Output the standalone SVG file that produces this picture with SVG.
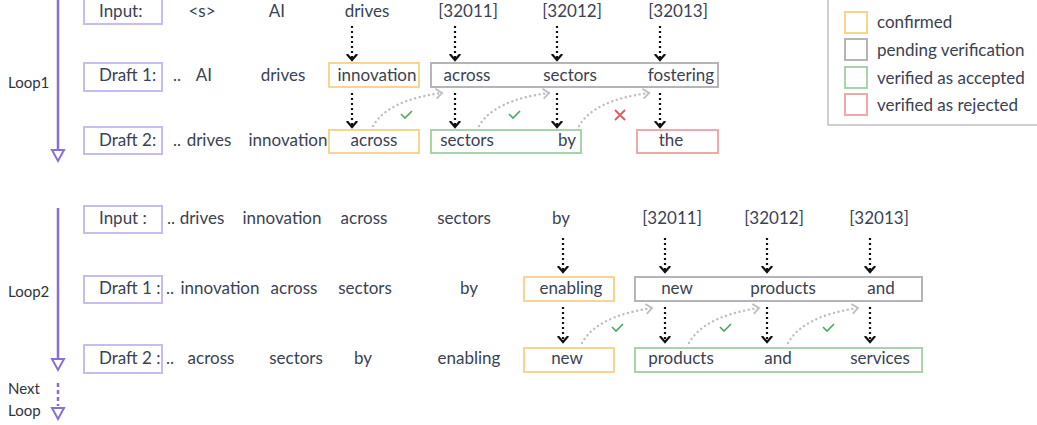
<svg xmlns="http://www.w3.org/2000/svg" width="1037" height="425" viewBox="0 0 1037 425">
  <defs>
    <style>
      .t { font-family: Lato, "Liberation Sans", sans-serif; font-size: 17px; fill: #3b4251; }
      .m { text-anchor: middle; }
      .loop { font-family: Lato, "Liberation Sans", sans-serif; font-size: 15px; fill: #2f3440; }
      .lbl { fill: none; stroke: #c8bcef; stroke-width: 2; }
      .yel { fill: none; stroke: #f8d58f; stroke-width: 2; }
      .gry { fill: none; stroke: #b3b5ba; stroke-width: 2; }
      .grn { fill: none; stroke: #a9d4ab; stroke-width: 2; }
      .red { fill: none; stroke: #f0a9a9; stroke-width: 2; }
      .vline { stroke: #8a6ed6; stroke-width: 2.5; fill: none; }
      .tri { fill: #ffffff; stroke: #8a6ed6; stroke-width: 2; }
      .dot { stroke: #111111; stroke-width: 2.2; stroke-dasharray: 2 3; fill: none; marker-end: url(#chev); }
      .ver { stroke: #bdbec2; stroke-width: 2.4; stroke-linecap: round; stroke-dasharray: 0.1 4.6; fill: none; marker-end: url(#corner); }
      .ok { stroke: #4ea665; stroke-width: 1.6; fill: none; }
      .no { stroke: #e05c5c; stroke-width: 1.8; fill: none; }
    </style>
    <marker id="chev" markerUnits="userSpaceOnUse" viewBox="0 0 8 12" refX="6.5" refY="6" markerWidth="8" markerHeight="12" orient="auto">
      <path d="M0.5,0.8 L6.5,6 L0.5,11.2" fill="none" stroke="#111111" stroke-width="2.2"/>
    </marker>
    <marker id="corner" markerUnits="userSpaceOnUse" viewBox="0 0 10 12" refX="7.5" refY="6" markerWidth="10" markerHeight="12" orient="auto">
      <path d="M1.5,1 L7.5,6 L1.5,11" fill="none" stroke="#bdbec2" stroke-width="1.8"/>
    </marker>
  </defs>

  <rect width="1037" height="425" fill="#ffffff"/>

  <!-- legend -->
  <g id="legend">
    <rect x="828" y="-1" width="215" height="126" fill="#ffffff" stroke="#a0a0a0" stroke-width="1"/>
    <rect class="yel" x="845" y="12" width="22" height="21"/>
    <rect class="gry" x="845" y="39" width="22" height="21"/>
    <rect class="grn" x="845" y="67" width="22" height="21"/>
    <rect class="red" x="845" y="94" width="22" height="21"/>
    <text class="t" x="877" y="28">confirmed</text>
    <text class="t" x="877" y="56">pending verification</text>
    <text class="t" x="877" y="84">verified as accepted</text>
    <text class="t" x="877" y="111">verified as rejected</text>
  </g>

  <!-- loop timelines -->
  <g id="loop1">
    <line class="vline" x1="58" y1="-5" x2="58" y2="150"/>
    <polygon class="tri" points="52,150 64,150 58,161"/>
    <text class="loop" x="8" y="88">Loop1</text>
  </g>
  <g id="loop2">
    <line class="vline" x1="58" y1="208" x2="58" y2="359"/>
    <polygon class="tri" points="52,359 64,359 58,370"/>
    <text class="loop" x="8" y="297">Loop2</text>
  </g>
  <g id="next-loop">
    <line class="vline" x1="58" y1="383" x2="58" y2="406" stroke-dasharray="4 3" stroke-width="2"/>
    <polygon class="tri" points="52,408 64,408 58,419"/>
    <text class="loop" x="8" y="394">Next</text>
    <text class="loop" x="8" y="416">Loop</text>
  </g>

  <!-- loop 1 rows -->
  <g id="l1-input">
    <rect class="lbl" x="84" y="-2" width="78" height="26"/>
    <text class="t" x="99" y="17">Input:</text>
    <text class="t m" x="202" y="17">&lt;s&gt;</text>
    <text class="t m" x="277" y="17">AI</text>
    <text class="t m" x="367" y="17">drives</text>
    <text class="t m" x="468" y="17">[32011]</text>
    <text class="t m" x="572" y="17">[32012]</text>
    <text class="t m" x="678" y="17">[32013]</text>
  </g>
  <g id="l1-draft1">
    <rect class="lbl" x="84" y="63" width="78" height="28"/>
    <text class="t" x="99" y="81">Draft 1:</text>
    <text class="t" x="173" y="81">..</text>
    <text class="t m" x="204" y="81">AI</text>
    <text class="t m" x="283" y="81">drives</text>
    <rect class="yel" x="329" y="63" width="90" height="24"/>
    <text class="t m" x="377" y="81">innovation</text>
    <rect class="gry" x="431" y="63" width="287" height="24"/>
    <text class="t m" x="467" y="81">across</text>
    <text class="t m" x="570" y="81">sectors</text>
    <text class="t m" x="681" y="81">fostering</text>
  </g>
  <g id="l1-draft2">
    <rect class="lbl" x="84" y="127" width="78" height="27"/>
    <text class="t" x="99" y="146">Draft 2:</text>
    <text class="t" x="173" y="146">..</text>
    <text class="t m" x="209" y="146">drives</text>
    <text class="t m" x="288" y="146">innovation</text>
    <rect class="yel" x="329" y="130" width="90" height="23"/>
    <text class="t m" x="374" y="146">across</text>
    <rect class="grn" x="431" y="130" width="150" height="23"/>
    <text class="t m" x="467" y="146">sectors</text>
    <text class="t m" x="567" y="146">by</text>
    <rect class="red" x="637" y="130" width="81" height="23"/>
    <text class="t m" x="671" y="146">the</text>
  </g>

  <!-- loop 2 rows -->
  <g id="l2-input">
    <rect class="lbl" x="84" y="206" width="78" height="27"/>
    <text class="t" x="99" y="224">Input :</text>
    <text class="t" x="167" y="224">..</text>
    <text class="t m" x="202" y="224">drives</text>
    <text class="t m" x="282" y="224">innovation</text>
    <text class="t m" x="364" y="224">across</text>
    <text class="t m" x="464" y="224">sectors</text>
    <text class="t m" x="561" y="224">by</text>
    <text class="t m" x="672" y="224">[32011]</text>
    <text class="t m" x="774" y="224">[32012]</text>
    <text class="t m" x="879" y="224">[32013]</text>
  </g>
  <g id="l2-draft1">
    <rect class="lbl" x="84" y="276" width="78" height="27"/>
    <text class="t" x="99" y="294">Draft 1 :</text>
    <text class="t" x="166" y="294">..</text>
    <text class="t m" x="220" y="294">innovation</text>
    <text class="t m" x="294" y="294">across</text>
    <text class="t m" x="365" y="294">sectors</text>
    <text class="t m" x="469" y="294">by</text>
    <rect class="yel" x="524" y="277" width="90" height="24"/>
    <text class="t m" x="571" y="294">enabling</text>
    <rect class="gry" x="635" y="277" width="287" height="24"/>
    <text class="t m" x="677" y="294">new</text>
    <text class="t m" x="783" y="294">products</text>
    <text class="t m" x="881" y="294">and</text>
  </g>
  <g id="l2-draft2">
    <rect class="lbl" x="84" y="345" width="78" height="28"/>
    <text class="t" x="99" y="364">Draft 2 :</text>
    <text class="t" x="166" y="364">..</text>
    <text class="t m" x="211" y="364">across</text>
    <text class="t m" x="296" y="364">sectors</text>
    <text class="t m" x="363" y="364">by</text>
    <text class="t m" x="469" y="364">enabling</text>
    <rect class="yel" x="524" y="348" width="90" height="24"/>
    <text class="t m" x="567" y="364">new</text>
    <rect class="grn" x="635" y="348" width="287" height="24"/>
    <text class="t m" x="681" y="364">products</text>
    <text class="t m" x="778" y="364">and</text>
    <text class="t m" x="880" y="364">services</text>
  </g>

  <!-- connectors -->
  <g id="connectors">
    <!-- loop 1: input to draft 1 -->
    <path class="dot" d="M352,26 V60"/>
    <path class="dot" d="M455,26 V60"/>
    <path class="dot" d="M557,26 V60"/>
    <path class="dot" d="M660,26 V60"/>
    <!-- loop 1: draft 1 to draft 2 -->
    <path class="dot" d="M352,93 V127"/>
    <path class="dot" d="M455,93 V127"/>
    <path class="dot" d="M557,93 V127"/>
    <path class="dot" d="M660,93 V127"/>
    <!-- loop 1: verification -->
    <path class="ver" d="M373,126 Q388,100 442,93"/>
    <path class="ver" d="M479,126 Q494,100 549,93"/>
    <path class="ver" d="M579,126 Q594,100 649,93"/>
    <path class="ok" d="M401,114 L405,118 L412,111"/>
    <path class="ok" d="M509,114 L513,118 L520,111"/>
    <path class="no" d="M615,110 L625,120 M625,110 L615,120"/>

    <!-- loop 2: input to draft 1 -->
    <path class="dot" d="M563,238 V272"/>
    <path class="dot" d="M665,238 V272"/>
    <path class="dot" d="M767,238 V272"/>
    <path class="dot" d="M870,238 V272"/>
    <!-- loop 2: draft 1 to draft 2 -->
    <path class="dot" d="M563,307 V342"/>
    <path class="dot" d="M665,307 V342"/>
    <path class="dot" d="M767,307 V342"/>
    <path class="dot" d="M870,307 V342"/>
    <!-- loop 2: verification -->
    <path class="ver" d="M582,343 Q597,316 652,308"/>
    <path class="ver" d="M689,343 Q704,316 759,308"/>
    <path class="ver" d="M788,343 Q803,316 858,308"/>
    <path class="ok" d="M612,327 L616,331 L623,324"/>
    <path class="ok" d="M720,327 L724,331 L731,324"/>
    <path class="ok" d="M823,327 L827,331 L834,324"/>
  </g>
</svg>
